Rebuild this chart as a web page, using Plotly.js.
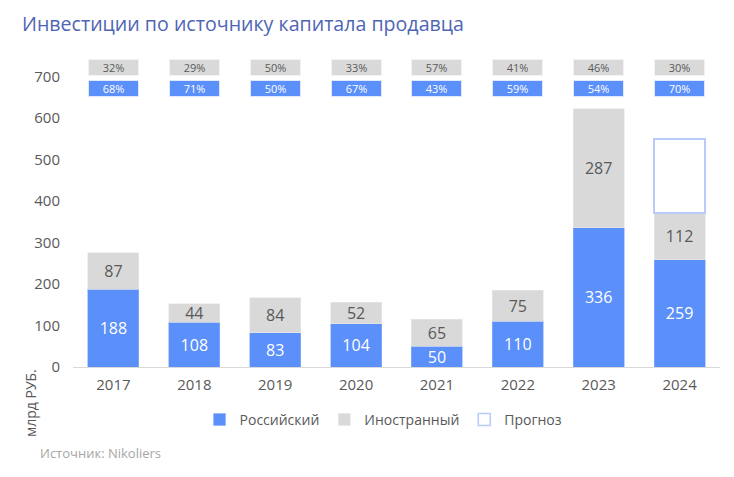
<!DOCTYPE html>
<html>
<head>
<meta charset="utf-8">
<script src="https://cdn.plot.ly/plotly-3.0.1.min.js"></script>
<style>html,body{margin:0;padding:0;background:#fff;}#chart{width:734px;height:477px;}</style>
</head>
<body>
<div id="chart"></div>
<script>
const years = ['2017','2018','2019','2020','2021','2022','2023','2024'];
const russian = [188, 108, 83, 104, 50, 110, 336, 259];
const foreign = [87, 44, 84, 52, 65, 75, 287, 112];
const forecast = [null, null, null, null, null, null, null, 179];
const foreignPct = [32, 29, 50, 33, 57, 41, 46, 30];
const russianPct = [68, 71, 50, 67, 43, 59, 54, 70];
const yTicks = [0, 100, 200, 300, 400, 500, 600, 700];

const BLUE = '#5b8ff9';
const GREY = '#d9d9d9';
const TXT = '#595959';
const FONT = '"Open Sans", "Noto Sans", sans-serif';

const traces = [
  {
    type: 'bar', name: 'Российский', x: years, y: russian,
    marker: {color: BLUE, line: {color: '#8fb0fb', width: 0.6}},
    text: russian.map(String), textposition: 'inside', insidetextanchor: 'middle',
    textangle: 0,
    textfont: {color: '#ffffff', size: 16, family: FONT}, hoverinfo: 'none'
  },
  {
    type: 'bar', name: 'Иностранный', x: years, y: foreign,
    marker: {color: GREY, line: {color: '#e8e8e8', width: 0.6}},
    text: foreign.map(String), textposition: 'inside', insidetextanchor: 'middle',
    textangle: 0,
    textfont: {color: TXT, size: 16, family: FONT}, hoverinfo: 'none'
  },
  {
    type: 'bar', name: 'Прогноз', x: years, y: forecast,
    marker: {color: '#ffffff', line: {color: '#b9cbf8', width: 1.5}},
    hoverinfo: 'none'
  }
];

const annotations = [];
years.forEach((yr, i) => {
  annotations.push({
    x: i, y: 722, xref: 'x', yref: 'y', text: foreignPct[i] + '%', showarrow: false,
    bgcolor: GREY, width: 49, height: 15, borderpad: 0, borderwidth: 1, bordercolor: '#f2f2f2',
    font: {size: 11, color: TXT, family: FONT}
  });
  annotations.push({
    x: i, y: 672, xref: 'x', yref: 'y', text: russianPct[i] + '%', showarrow: false,
    bgcolor: BLUE, width: 49, height: 15, borderpad: 0, borderwidth: 1, bordercolor: '#dfe8fd',
    font: {size: 11, color: '#ffffff', family: FONT}
  });
});
annotations.push({
  xref: 'paper', yref: 'paper', x: -0.066, y: -0.115, text: 'млрд РУБ.', textangle: -90,
  showarrow: false, xanchor: 'center', yanchor: 'middle',
  font: {size: 14, color: TXT, family: FONT}
});
annotations.push({
  xref: 'paper', yref: 'paper', x: -0.054, y: -0.277, text: 'Источник: Nikoliers',
  showarrow: false, xanchor: 'left', yanchor: 'middle',
  font: {size: 13, color: '#a6a6a6', family: FONT}
});

const layout = {
  width: 734, height: 477,
  margin: {l: 73, r: 14, t: 56, b: 110},
  paper_bgcolor: '#ffffff', plot_bgcolor: '#ffffff',
  barmode: 'stack', bargap: 0.37,
  uniformtext: {mode: 'show', minsize: 16},
  title: {
    text: 'Инвестиции по источнику капитала продавца',
    x: 22 / 734, xref: 'container', xanchor: 'left',
    y: 1 - 24 / 477, yref: 'container', yanchor: 'middle',
    font: {size: 19.6, color: '#4f65b4', family: FONT}
  },
  xaxis: {
    type: 'category', range: [-0.5, 7.5], autorange: false,
    showgrid: false, zeroline: false,
    showline: true, linecolor: '#d9d9d9', linewidth: 1,
    ticks: '', ticklabelstandoff: 4,
    tickfont: {size: 15, color: TXT, family: FONT}
  },
  yaxis: {
    range: [0, 750], autorange: false, tickvals: yTicks, ticktext: yTicks.map(String),
    showgrid: false, zeroline: false, showline: false, ticks: '',
    ticklabelstandoff: 12,
    tickfont: {size: 15, color: TXT, family: FONT}
  },
  showlegend: true,
  legend: {
    orientation: 'h', x: 0.48, xanchor: 'center', y: -0.17, yanchor: 'middle',
    traceorder: 'normal', font: {size: 14, color: TXT, family: FONT},
    itemwidth: 30
  },
  annotations: annotations
};

Plotly.newPlot('chart', traces, layout, {displayModeBar: false, staticPlot: true});
</script>
</body>
</html>
